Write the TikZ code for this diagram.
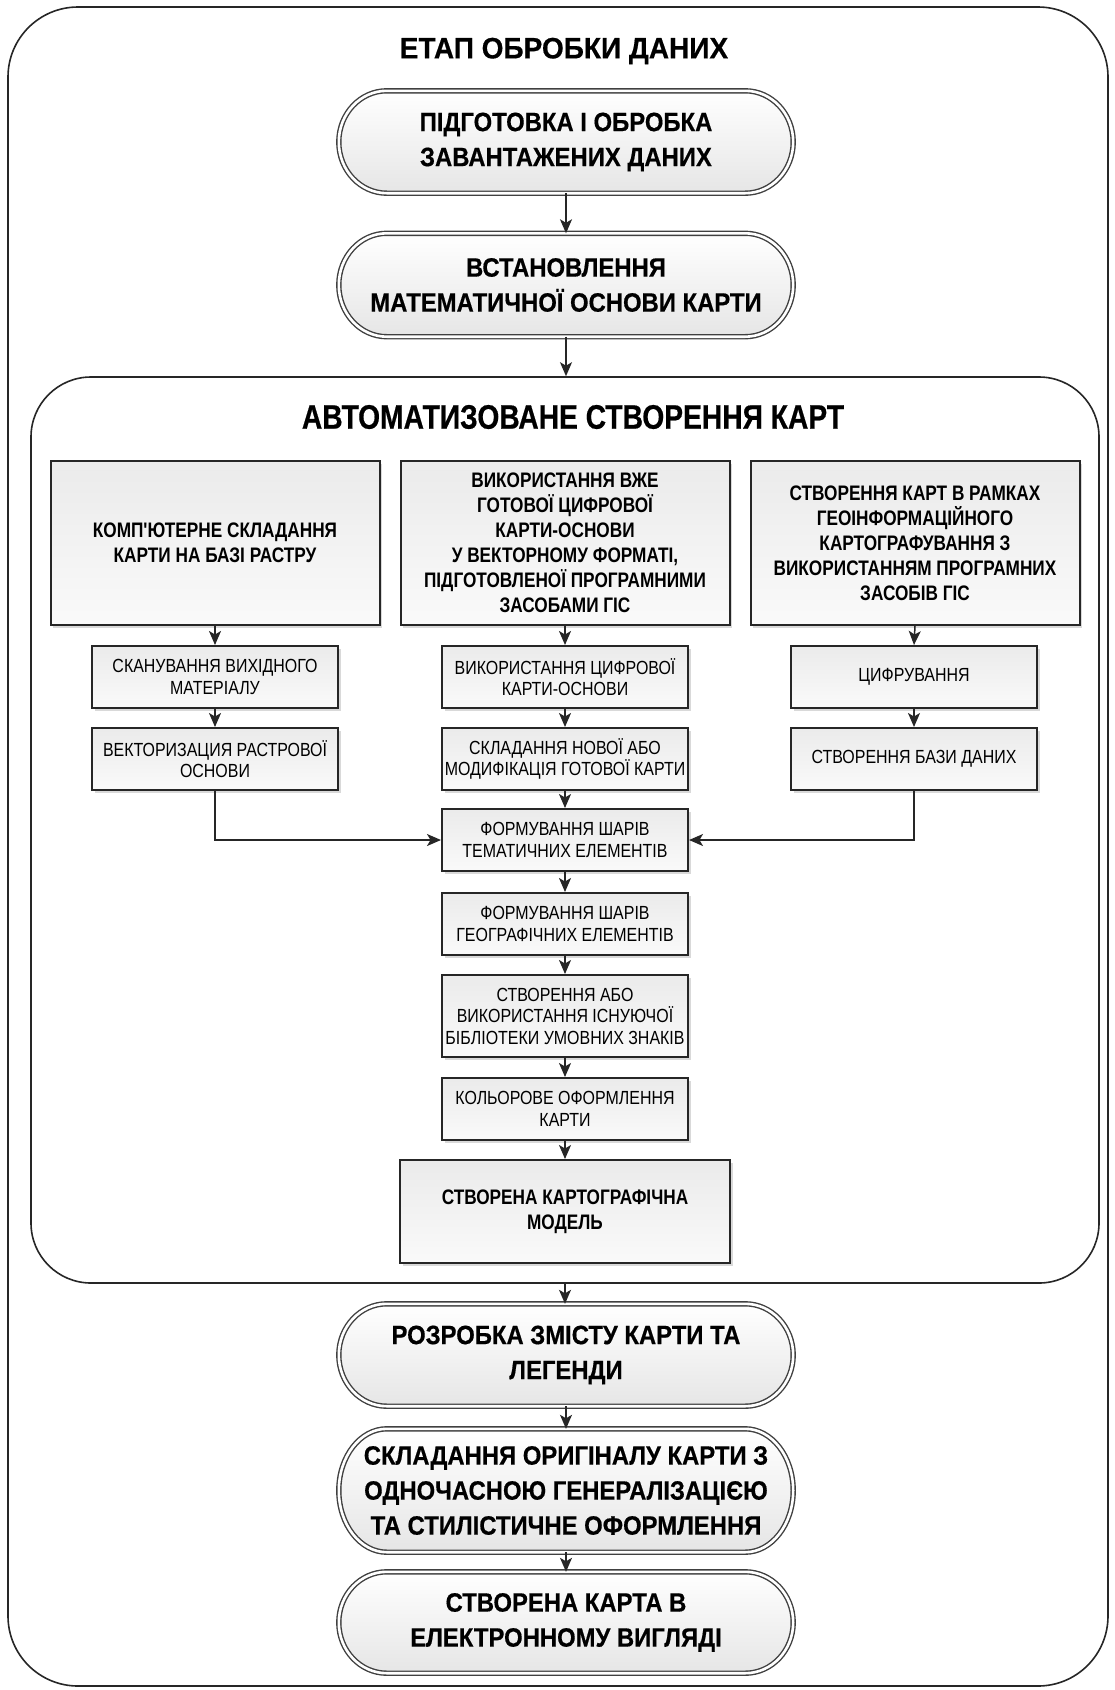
\documentclass[tikz,border=0pt]{standalone}
\usepackage{fontspec}
\newfontfamily\tf{Liberation Sans}[FakeStretch=0.95, BoldFeatures={FakeBold=0.5}]
\newfontfamily\itf{Liberation Sans}[FakeStretch=0.83, BoldFeatures={FakeBold=0.5}]
\newfontfamily\pf{Liberation Sans}[FakeStretch=0.90, BoldFeatures={FakeBold=0.5}]
\newfontfamily\boxf{Liberation Sans}[FakeStretch=0.82]
\newfontfamily\smf{Liberation Sans}[FakeStretch=0.84]
\usetikzlibrary{arrows.meta,shadows,calc,backgrounds}
\newcommand\pillbg[1]{%
  \path[pillsty] let \p1=(#1.north), \p2=(#1.south), \n1={0.5*(\y1-\y2)} in
    ([xshift=48pt]#1.north west) -- ([xshift=-48pt]#1.north east)
    arc[start angle=90, end angle=-90, x radius=48pt, y radius=\n1]
    -- ([xshift=48pt]#1.south west)
    arc[start angle=270, end angle=90, x radius=48pt, y radius=\n1] -- cycle;}
\begin{document}
\begin{tikzpicture}[x=1pt,y=-1pt,
  arr/.style={-{Stealth[length=14pt,width=12pt,inset=3.5pt]}, line width=1.5pt, draw=black!85},
  titlesty/.style={inner sep=0pt, font=\tf\bfseries\fontsize{29.5}{34}\selectfont},
  pill/.style={rectangle, minimum width=454pt, inner sep=0pt, align=center,
    font=\pf\bfseries\fontsize{26.5}{35}\selectfont},
  pillsty/.style={draw=black!75, line width=1.4pt, double=white, double distance=2.6pt,
    top color=white, bottom color=black!10},
  boxbase/.style={rectangle, draw=black!85, line width=2pt, top color=black!8,
    bottom color=black!2, drop shadow={shadow xshift=2.5pt, shadow yshift=-2.5pt, opacity=0.3},
    inner sep=0pt, align=center},
  bigbox/.style={boxbase, minimum width=329pt, minimum height=164pt,
    font=\boxf\bfseries\fontsize{21}{25}\selectfont},
  smallbox/.style={boxbase, minimum width=246pt, minimum height=62pt,
    font=\smf\fontsize{19}{21.5}\selectfont},
  container/.style={rectangle, draw=black!85, line width=1.6pt, inner sep=0pt}
]
\useasboundingbox (0,0) rectangle (1115,1690);

\node[container, rounded corners=70pt, minimum width=1100pt, minimum height=1679pt] (outer) at (558,846.5) {};
\node[titlesty] (title1) at (564,51) {ЕТАП ОБРОБКИ ДАНИХ};

\node[pill, minimum height=102pt] (p1) at (566,142) {ПІДГОТОВКА І ОБРОБКА\\ЗАВАНТАЖЕНИХ ДАНИХ};
\node[pill, minimum height=103pt] (p2) at (566,285) {ВСТАНОВЛЕННЯ\\МАТЕМАТИЧНОЇ ОСНОВИ КАРТИ};

\node[container, rounded corners=60pt, minimum width=1068pt, minimum height=906pt] (auto) at (565,830) {};
\node[inner sep=0pt, font=\itf\bfseries\fontsize{34}{40}\selectfont] (title2) at (573,417) {АВТОМАТИЗОВАНЕ СТВОРЕННЯ КАРТ};

\node[bigbox] (t1) at (215,543) {КОМП'ЮТЕРНЕ СКЛАДАННЯ\\КАРТИ НА БАЗІ РАСТРУ};
\node[bigbox] (t2) at (565,543) {ВИКОРИСТАННЯ ВЖЕ\\ГОТОВОЇ ЦИФРОВОЇ\\КАРТИ-ОСНОВИ\\У ВЕКТОРНОМУ ФОРМАТІ,\\ПІДГОТОВЛЕНОЇ ПРОГРАМНИМИ\\ЗАСОБАМИ ГІС};
\node[bigbox] (t3) at (915,543) {СТВОРЕННЯ КАРТ В РАМКАХ\\ГЕОІНФОРМАЦІЙНОГО\\КАРТОГРАФУВАННЯ З\\ВИКОРИСТАННЯМ ПРОГРАМНИХ\\ЗАСОБІВ ГІС};

\node[smallbox] (s1) at (215,677) {СКАНУВАННЯ ВИХІДНОГО\\МАТЕРІАЛУ};
\node[smallbox] (s2) at (565,677) {ВИКОРИСТАННЯ ЦИФРОВОЇ\\КАРТИ-ОСНОВИ};
\node[smallbox] (s3) at (914,677) {ЦИФРУВАННЯ};

\node[smallbox] (r1) at (215,759) {ВЕКТОРИЗАЦИЯ РАСТРОВОЇ\\ОСНОВИ};
\node[smallbox] (r2) at (565,759) {СКЛАДАННЯ НОВОЇ АБО\\МОДИФІКАЦІЯ ГОТОВОЇ КАРТИ};
\node[smallbox] (r3) at (914,759) {СТВОРЕННЯ БАЗИ ДАНИХ};

\node[smallbox] (tem) at (565,840) {ФОРМУВАННЯ ШАРІВ\\ТЕМАТИЧНИХ ЕЛЕМЕНТІВ};
\node[smallbox] (geo) at (565,924) {ФОРМУВАННЯ ШАРІВ\\ГЕОГРАФІЧНИХ ЕЛЕМЕНТІВ};
\node[smallbox, minimum height=82pt] (lib) at (565,1016) {СТВОРЕННЯ АБО\\ВИКОРИСТАННЯ ІСНУЮЧОЇ\\БІБЛІОТЕКИ УМОВНИХ ЗНАКІВ};
\node[smallbox] (col) at (565,1109) {КОЛЬОРОВЕ ОФОРМЛЕННЯ\\КАРТИ};
\node[bigbox, minimum width=330pt, minimum height=103pt] (model) at (565,1211.5) {СТВОРЕНА КАРТОГРАФІЧНА\\МОДЕЛЬ};

\node[pill, minimum height=102pt] (p3) at (566,1355) {РОЗРОБКА ЗМІСТУ КАРТИ ТА\\ЛЕГЕНДИ};
\node[pill, minimum height=123pt] (p4) at (566,1490.5) {СКЛАДАННЯ ОРИГІНАЛУ КАРТИ З\\ОДНОЧАСНОЮ ГЕНЕРАЛІЗАЦІЄЮ\\ТА СТИЛІСТИЧНЕ ОФОРМЛЕННЯ};
\node[pill, minimum height=101pt] (p5) at (566,1622.5) {СТВОРЕНА КАРТА В\\ЕЛЕКТРОННОМУ ВИГЛЯДІ};

\begin{scope}[on background layer]
  \pillbg{p1}\pillbg{p2}\pillbg{p3}\pillbg{p4}\pillbg{p5}
\end{scope}

\draw[arr] (p1.south) -- (p2.north);
\draw[arr] (p2.south) -- (p2.south |- auto.north);
\draw[arr] (t1.south) -- (s1.north);
\draw[arr] (t2.south) -- (s2.north);
\draw[arr] (t3.south) -- (s3.north);
\draw[arr] (s1.south) -- (r1.north);
\draw[arr] (s2.south) -- (r2.north);
\draw[arr] (s3.south) -- (r3.north);
\draw[arr] (r2.south) -- (tem.north);
\draw[arr] (r1.south) |- (tem.west);
\draw[arr] (r3.south) |- (tem.east);
\draw[arr] (tem.south) -- (geo.north);
\draw[arr] (geo.south) -- (lib.north);
\draw[arr] (lib.south) -- (col.north);
\draw[arr] (col.south) -- (model.north);
\draw[arr] (auto.south) -- (auto.south |- p3.north);
\draw[arr] (p3.south) -- (p4.north);
\draw[arr] (p4.south) -- (p5.north);
\end{tikzpicture}
\end{document}
